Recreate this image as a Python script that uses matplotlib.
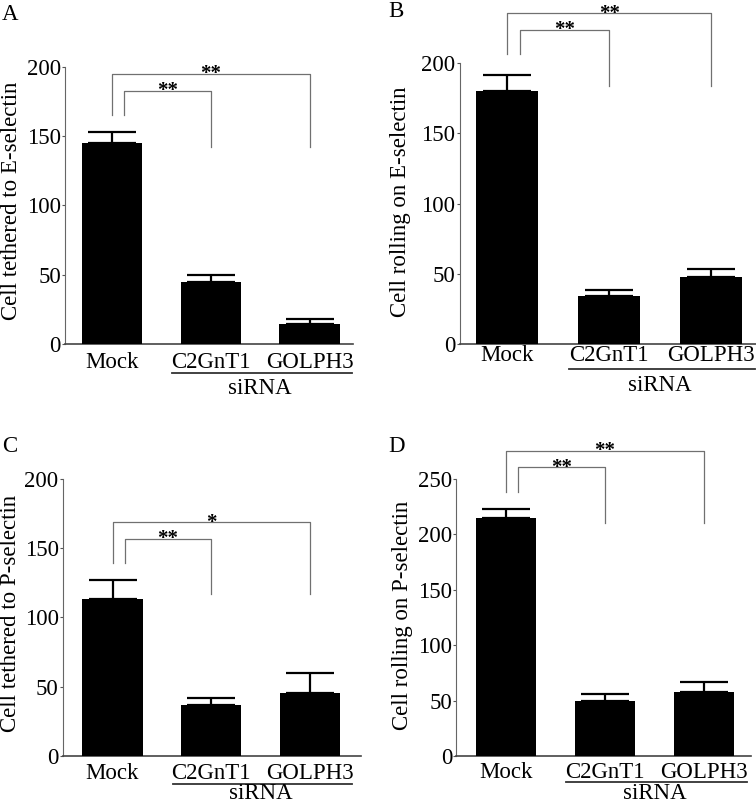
import matplotlib
matplotlib.use('Agg')
import matplotlib.pyplot as plt

plt.rcParams['font.family'] = ['Liberation Serif', 'DejaVu Serif']

# Данні
groups = ['Mock', 'C2GnT1', 'GOLPH3']
labels_y = ['Cell tethered to E-selectin', 'Cell rolling on E-selectin',
            'Cell tethered to P-selectin', 'Cell rolling on P-selectin']
panel_names = ['A', 'B', 'C', 'D']

means_A = [145, 45, 14.5]
errs_A = [8, 5, 3.5]
means_B = [180.5, 34, 47.5]
errs_B = [11.5, 4.3, 6.2]
means_C = [113.5, 36.8, 45.5]
errs_C = [13.3, 4.8, 14.7]
means_D = [214.8, 49.6, 58]
errs_D = [8.2, 6.4, 8.8]

ymax_list = [200, 200, 200, 250]
yticks_list = [[0, 50, 100, 150, 200], [0, 50, 100, 150, 200],
               [0, 50, 100, 150, 200], [0, 50, 100, 150, 200, 250]]

# значущість: (зірочки до C2GnT1, зірочки до GOLPH3)
stars_list = [('**', '**'), ('**', '**'), ('**', '*'), ('**', '**')]
# висоти дужок: внутрішня, зовнішня, низ зліва, низ справа
brackets_list = [(183, 195, 165, 142),
                 (224, 235.7, 206.5, 184),
                 (157, 168.7, 139, 116.7),
                 (260.6, 275.3, 238.5, 210)]

all_means = [means_A, means_B, means_C, means_D]
all_errs = [errs_A, errs_B, errs_C, errs_D]

# положення осей на полотні (left, bottom, width, height) і межі x
positions = [(0.086, 0.5727, 0.381, 0.3441),
             (0.608, 0.5727, 0.392, 0.3487),
             (0.083, 0.0609, 0.395, 0.3441),
             (0.6036, 0.0609, 0.3894, 0.3441)]
xlims = [(-0.476, 2.44), (-0.467, 2.44), (-0.504, 2.52), (-0.50, 2.47)]
ylab_pos = [(-0.1875, 0.517), (-0.198, 0.507), (-0.176, 0.516), (-0.184, 0.506)]
tick_pads = [5.5, 1.0, 5.0, 4.5]
line_off = [-0.105, -0.09, -0.101, -0.094]
sirna_off = [-0.182, -0.169, -0.155, -0.155]
letter_pos = [(0.003, 0.975), (0.513, 0.979), (0.003, 0.4385), (0.513, 0.4385)]

fig = plt.figure(figsize=(7.56, 8.05), dpi=100)
x = [0, 1, 2]

for i in range(4):
    ax = fig.add_axes(positions[i])
    ax.bar(x, all_means[i], width=0.61, color='black', zorder=3)
    ax.errorbar(x, all_means[i], yerr=[[0, 0, 0], all_errs[i]], fmt='none',
                ecolor='black', elinewidth=1.6, capsize=17, capthick=1.6, zorder=2)
    ax.set_xlim(*xlims[i])
    ax.set_ylim(0, ymax_list[i])
    ax.set_yticks(yticks_list[i])
    ax.set_xticks(x)
    ax.set_xticklabels(groups)
    ax.tick_params(axis='x', length=0, pad=tick_pads[i], labelsize=16.5)
    ax.tick_params(axis='y', length=2.5, width=0.8, pad=0.5, labelsize=16.5, color='#555555')
    for s in ['top', 'right']:
        ax.spines[s].set_visible(False)
    ax.spines['left'].set_color('#666666')
    ax.spines['left'].set_linewidth(0.8)
    ax.spines['bottom'].set_color('#444444')
    ax.spines['bottom'].set_linewidth(1.2)

    ax.set_ylabel(labels_y[i], fontsize=16.5, va='center')
    ax.yaxis.set_label_coords(*ylab_pos[i])

    # підкреслення та підпис siRNA
    ax.plot([0.61, 2.43], [line_off[i], line_off[i]], color='#333333', lw=1.3,
            transform=ax.get_xaxis_transform(), clip_on=False)
    ax.text(1.5, sirna_off[i], 'siRNA', ha='center', va='baseline', fontsize=16.5,
            transform=ax.get_xaxis_transform())

    # дужки значущості
    inner, outer, low_l, low_r = brackets_list[i]
    s_in, s_out = stars_list[i]
    ax.plot([0, 0, 2, 2], [low_l, outer, outer, low_r], color='#707070', lw=0.9,
            clip_on=False)
    ax.plot([0.125, 0.125, 1, 1], [low_l, inner, inner, low_r], color='#707070', lw=0.9,
            clip_on=False)
    ax.annotate(s_out, xy=(1.0, outer), xytext=(0, -4), textcoords='offset points',
                ha='center', va='baseline', fontsize=15, fontweight='bold',
                annotation_clip=False)
    ax.annotate(s_in, xy=(0.5625, inner), xytext=(0, -4), textcoords='offset points',
                ha='center', va='baseline', fontsize=15, fontweight='bold',
                annotation_clip=False)

    fig.text(letter_pos[i][0], letter_pos[i][1], panel_names[i], fontsize=16.5,
             ha='left', va='baseline')

fig.savefig('out.png', dpi=100)
